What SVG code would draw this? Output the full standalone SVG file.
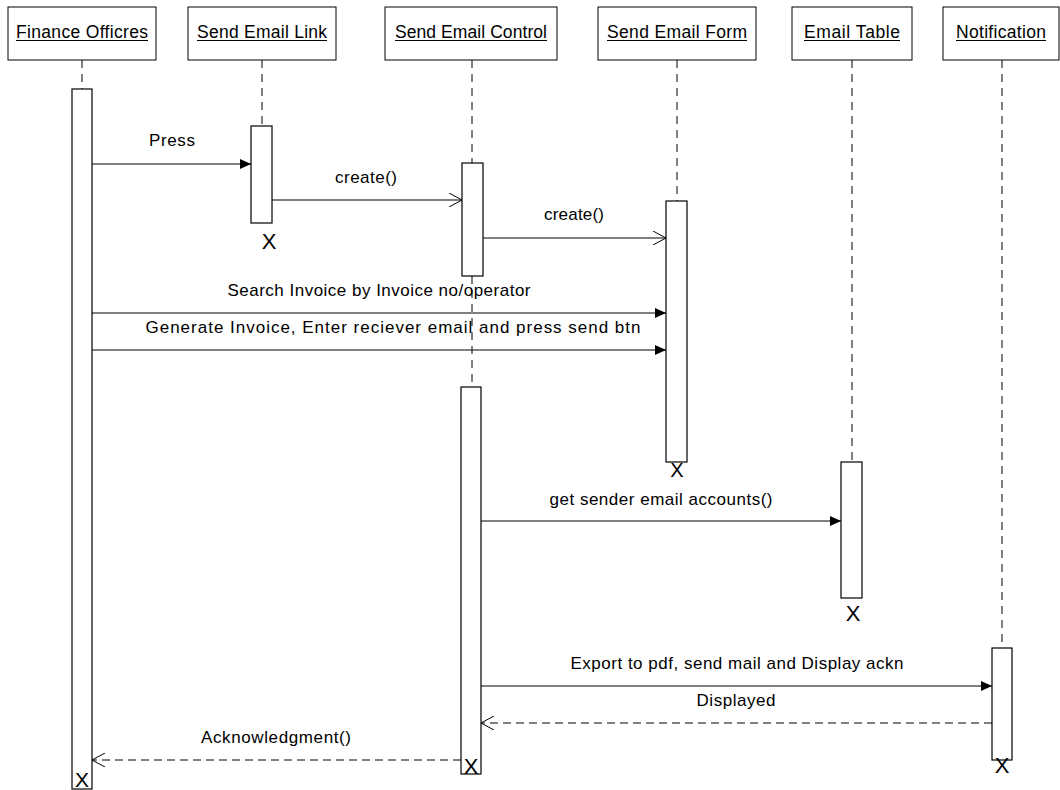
<svg xmlns="http://www.w3.org/2000/svg" width="1060" height="790" viewBox="0 0 1060 790">
<style>
.box{fill:#fff;stroke:#000;stroke-width:1}
.bar{fill:#fff;stroke:#000;stroke-width:1.2}
.life{stroke:#000;stroke-width:1;stroke-dasharray:8,6;fill:none}
.hd{font-family:"Liberation Sans",Arial,sans-serif;font-size:17.5px;text-anchor:middle;fill:#000}
.ul{stroke:#000;stroke-width:1}
.lbl{font-family:"Liberation Sans",Arial,sans-serif;font-size:17px;text-anchor:middle;fill:#000}
.x{font-family:"Liberation Sans",Arial,sans-serif;font-size:22px;text-anchor:middle;fill:#000}
.msg{stroke:#000;stroke-width:1;fill:none}
.ret{stroke:#000;stroke-width:1;fill:none;stroke-dasharray:8,5}
</style>
<defs>
<marker id="filled" markerWidth="12" markerHeight="10" refX="11" refY="5" orient="auto" markerUnits="userSpaceOnUse">
<path d="M0,0 L11,5 L0,10 Z" fill="#000"/>
</marker>
<marker id="open" markerWidth="14" markerHeight="14" refX="13" refY="7" orient="auto" markerUnits="userSpaceOnUse">
<path d="M0,0 L13,7 L0,14" fill="none" stroke="#000" stroke-width="1"/>
</marker>
</defs>
<rect width="1060" height="790" fill="#fff"/>

<g id="finance">
<rect class="box" x="8" y="7" width="148" height="53"/>
<text class="hd" x="82" y="38" textLength="132">Finance Officres</text>
<line class="ul" x1="16" y1="40.5" x2="148" y2="40.5"/>
<line class="life" x1="82" y1="60" x2="82" y2="89"/>
<rect class="bar" x="72" y="89" width="20" height="700"/>
<text class="x" x="82" y="787" style="font-size:21px">X</text>
</g>

<g id="link">
<rect class="box" x="188" y="7" width="148" height="53"/>
<text class="hd" x="262" y="38" textLength="130">Send Email Link</text>
<line class="ul" x1="197" y1="40.5" x2="327" y2="40.5"/>
<line class="life" x1="262" y1="60" x2="262" y2="126"/>
<rect class="bar" x="251" y="126" width="21" height="97"/>
<text class="x" x="269" y="249">X</text>
</g>

<g id="control">
<rect class="box" x="385" y="7" width="172" height="53"/>
<text class="hd" x="471" y="38" textLength="152">Send Email Control</text>
<line class="ul" x1="395" y1="40.5" x2="547" y2="40.5"/>
<line class="life" x1="472" y1="60" x2="472" y2="163"/>
<rect class="bar" x="462" y="163" width="21" height="113"/>
<line class="life" x1="472" y1="276" x2="472" y2="387"/>
<rect class="bar" x="461" y="387" width="20" height="387"/>
<text class="x" x="471" y="774">X</text>
</g>

<g id="form">
<rect class="box" x="598" y="7" width="158" height="53"/>
<text class="hd" x="677" y="38" textLength="140">Send Email Form</text>
<line class="ul" x1="607" y1="40.5" x2="747" y2="40.5"/>
<line class="life" x1="677" y1="60" x2="677" y2="201"/>
<rect class="bar" x="666" y="201" width="21" height="261"/>
<text class="x" x="677" y="477" style="font-size:20px">X</text>
</g>

<g id="table">
<rect class="box" x="792" y="7" width="120" height="53"/>
<text class="hd" x="852" y="38" textLength="96">Email Table</text>
<line class="ul" x1="804" y1="40.5" x2="900" y2="40.5"/>
<line class="life" x1="852" y1="60" x2="852" y2="462"/>
<rect class="bar" x="841" y="462" width="21" height="136"/>
<text class="x" x="853" y="621">X</text>
</g>

<g id="notification">
<rect class="box" x="943" y="7" width="116" height="53"/>
<text class="hd" x="1001" y="38" textLength="90">Notification</text>
<line class="ul" x1="956" y1="40.5" x2="1046" y2="40.5"/>
<line class="life" x1="1002" y1="60" x2="1002" y2="648"/>
<rect class="bar" x="992" y="648" width="20" height="112"/>
<text class="x" x="1002" y="773">X</text>
</g>

<g id="connectors">
<line class="msg" x1="92" y1="164" x2="251" y2="164" marker-end="url(#filled)"/>
<text class="lbl" x="172" y="146" textLength="46">Press</text>

<line class="msg" x1="272" y1="200" x2="462" y2="200" marker-end="url(#open)"/>
<text class="lbl" x="366" y="183" textLength="62">create()</text>

<line class="msg" x1="483" y1="238" x2="666" y2="238" marker-end="url(#open)"/>
<text class="lbl" x="574" y="220" textLength="60">create()</text>

<line class="msg" x1="92" y1="313" x2="666" y2="313" marker-end="url(#filled)"/>
<text class="lbl" x="379" y="296" textLength="303">Search Invoice by Invoice no/operator</text>

<line class="msg" x1="92" y1="350" x2="666" y2="350" marker-end="url(#filled)"/>
<text class="lbl" x="393" y="333" textLength="495">Generate Invoice, Enter reciever email and press send btn</text>

<line class="msg" x1="481" y1="521" x2="841" y2="521" marker-end="url(#filled)"/>
<text class="lbl" x="661" y="505" textLength="223">get sender email accounts()</text>

<line class="msg" x1="481" y1="686" x2="992" y2="686" marker-end="url(#filled)"/>
<text class="lbl" x="737" y="669" textLength="333">Export to pdf, send mail and Display ackn</text>

<line class="ret" x1="992" y1="723" x2="481" y2="723" marker-end="url(#open)"/>
<text class="lbl" x="736" y="706" textLength="79">Displayed</text>

<line class="ret" x1="461" y1="760" x2="92" y2="760" marker-end="url(#open)"/>
<text class="lbl" x="276" y="743" textLength="150">Acknowledgment()</text>
</g>
</svg>
